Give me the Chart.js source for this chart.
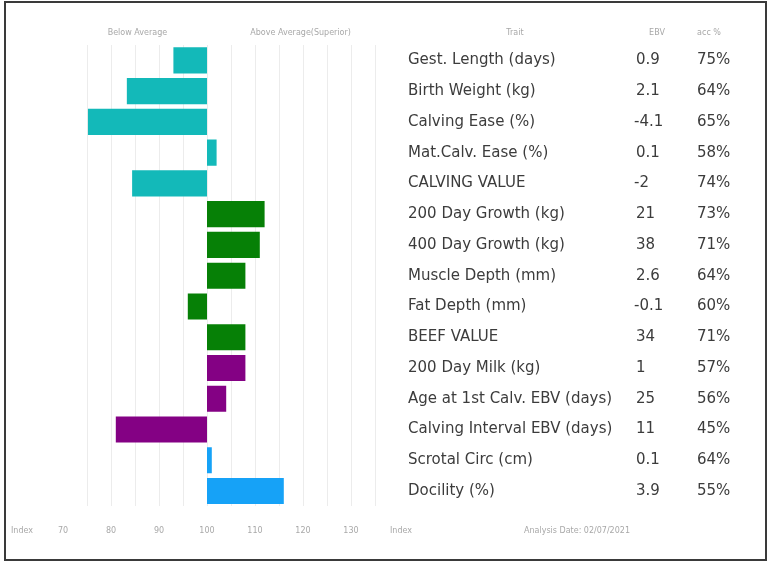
<!DOCTYPE html>
<html lang="en">
<head>
    <meta charset="UTF-8">
    <title>EBV Index Chart</title>
    <script src="https://cdn.jsdelivr.net/npm/chart.js"></script>
    <style>
        body { margin: 0; background: #fff; }
        #wrap { position: absolute; left: 4px; top: 1px; width: 759px; height: 556px; border: 2px solid #3a3a3a; }
    </style>
</head>
<body>
    <div id="wrap"><canvas id="ebvChart" width="759" height="556"></canvas></div>

    <script>
        // traits, EBVs, accuracy and index values
        const traits = ['Gest. Length (days)', 'Birth Weight (kg)', 'Calving Ease (%)', 'Mat.Calv. Ease (%)', 'CALVING VALUE',
            '200 Day Growth (kg)', '400 Day Growth (kg)', 'Muscle Depth (mm)', 'Fat Depth (mm)', 'BEEF VALUE',
            '200 Day Milk (kg)', 'Age at 1st Calv. EBV (days)', 'Calving Interval EBV (days)', 'Scrotal Circ (cm)', 'Docility (%)'];
        const ebv = ['0.9', '2.1', '-4.1', '0.1', '-2', '21', '38', '2.6', '-0.1', '34', '1', '25', '11', '0.1', '3.9'];
        const acc = ['75%', '64%', '65%', '58%', '74%', '73%', '71%', '64%', '60%', '71%', '57%', '56%', '45%', '64%', '55%'];
        const indexValues = [93, 83.3, 75.2, 102, 84.4, 112, 111, 108, 96, 108, 108, 104, 81, 101, 116];
        const groups = ['calving', 'calving', 'calving', 'calving', 'calving', 'beef', 'beef', 'beef', 'beef', 'beef',
            'maternal', 'maternal', 'maternal', 'other', 'other'];
        const average = 100;
        const tickValues = [70, 80, 90, 100, 110, 120, 130];
        const headers = { below: 'Below Average', above: 'Above Average(Superior)', trait: 'Trait', ebv: 'EBV', acc: 'acc %' };
        const footers = { index: 'Index', date: 'Analysis Date: 02/07/2021' };

        const groupColors = { calving: '#13b9b9', beef: '#068006', maternal: '#840184', other: '#16a2f7' };

        // side table and small captions drawn against the chart's own scales
        const tablePlugin = {
            id: 'table',
            afterDraw(chart) {
                const ctx = chart.ctx;
                const y = chart.scales.y;
                const x = chart.scales.x;
                ctx.save();
                ctx.textBaseline = 'middle';
                ctx.fillStyle = '#3c3c3c';
                ctx.font = '15px "DejaVu Sans"';
                traits.forEach((t, i) => {
                    const py = y.getPixelForValue(i);
                    ctx.textAlign = 'left';
                    ctx.fillText(t, 402, py);
                    ctx.fillText(ebv[i], ebv[i].startsWith('-') ? 628 : 630, py);
                    ctx.fillText(acc[i], 691, py);
                });
                ctx.fillStyle = '#a8a8a8';
                ctx.font = '8px "DejaVu Sans"';
                ctx.textAlign = 'center';
                const hy = chart.chartArea.top - 12;
                ctx.fillText(headers.below, x.getPixelForValue(85.5), hy);
                ctx.fillText(headers.above, x.getPixelForValue(119.5), hy);
                ctx.fillText(headers.trait, 509, hy);
                ctx.fillText(headers.ebv, 651, hy);
                ctx.fillText(headers.acc, 703, hy);
                const fy = chart.chartArea.bottom + 25;
                ctx.fillText(footers.index, 16, fy);
                ctx.textAlign = 'left';
                ctx.fillText(footers.index, 384, fy);
                ctx.fillText(footers.date, 518, fy);
                ctx.restore();
            }
        };

        const ctx = document.getElementById('ebvChart').getContext('2d');
        new Chart(ctx, {
            type: 'bar',
            data: {
                labels: traits,
                datasets: [{
                    data: indexValues.map(v => [average, v]),
                    backgroundColor: groups.map(g => groupColors[g]),
                    borderWidth: 0,
                    borderSkipped: false,
                    categoryPercentage: 1,
                    barPercentage: 0.85
                }]
            },
            options: {
                indexAxis: 'y',
                responsive: false,
                animation: false,
                layout: { padding: { left: 33, right: 390, top: 42, bottom: 3 } },
                plugins: { legend: { display: false }, tooltip: { enabled: false } },
                scales: {
                    x: {
                        min: 65,
                        max: 135,
                        ticks: {
                            stepSize: 5,
                            color: '#a8a8a8',
                            font: { size: 8, family: 'DejaVu Sans' },
                            padding: 20,
                            callback: v => tickValues.includes(v) ? v : ''
                        },
                        grid: {
                            drawTicks: false,
                            color: c => (c.tick && c.tick.value >= 75) ? '#ececec' : 'rgba(0,0,0,0)'
                        },
                        border: { display: false }
                    },
                    y: {
                        display: false
                    }
                }
            },
            plugins: [tablePlugin]
        });
    </script>
</body>
</html>
